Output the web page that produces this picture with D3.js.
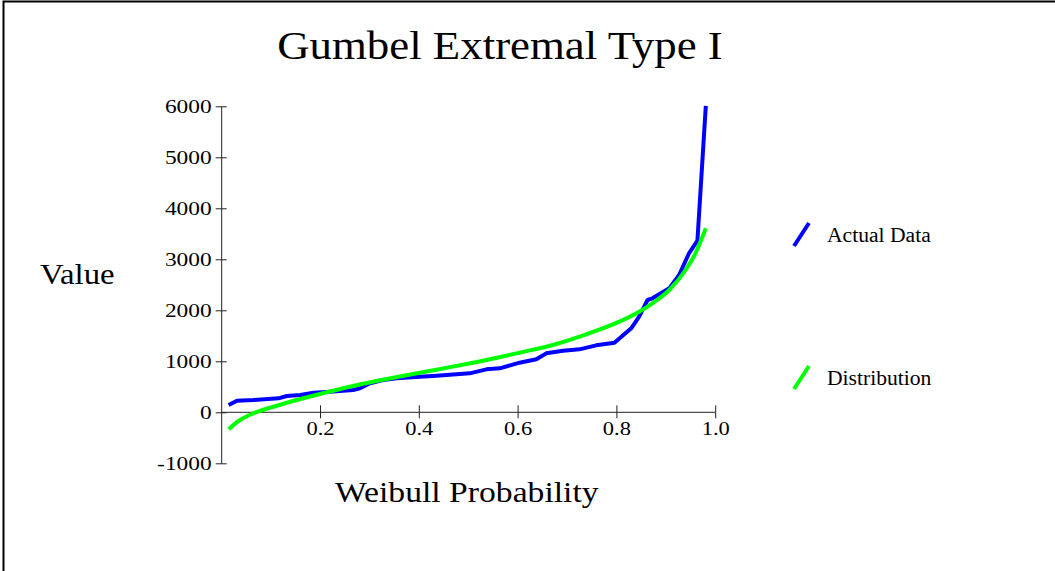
<!DOCTYPE html>
<html>
<head>
<meta charset="utf-8">
<script src="https://cdn.jsdelivr.net/npm/d3@7"></script>
<style>
  html, body { margin: 0; padding: 0; background: #fff; }
  svg { display: block; }
  text { font-family: "Liberation Serif", "Times New Roman", serif; fill: #000; }
</style>
</head>
<body>
<svg id="chart" width="1055" height="571"></svg>
<script>
// Actual data (Weibull plotting position vs value)
const actualP = [0.015, 0.032, 0.065, 0.116, 0.133, 0.160, 0.187, 0.220, 0.267, 0.281, 0.301, 0.328,
                 0.355, 0.402, 0.436, 0.503, 0.537, 0.564, 0.604, 0.638, 0.658, 0.692, 0.725, 0.759,
                 0.796, 0.830, 0.846, 0.863, 0.873, 0.907, 0.927, 0.947, 0.964, 0.981];
const actualV = [143, 228, 241, 274, 320, 339, 385, 404, 437, 470, 568, 633,
                 666, 699, 718, 764, 842, 862, 973, 1039, 1156, 1208, 1234, 1313,
                 1365, 1647, 1875, 2202, 2235, 2431, 2692, 3118, 3365, 6006];

// Fitted Gumbel distribution curve
const distP = [0.015, 0.038, 0.065, 0.099, 0.133, 0.200, 0.267, 0.335, 0.402, 0.469, 0.537,
               0.604, 0.671, 0.739, 0.806, 0.846, 0.873, 0.907, 0.940, 0.960, 0.981];
const distV = [-333, -151, -20, 90, 188, 359, 516, 653, 777, 895, 1025,
               1169, 1320, 1529, 1777, 1973, 2137, 2398, 2790, 3118, 3608];

const xTicks = [0.2, 0.4, 0.6, 0.8, 1.0];
const yTicks = [-1000, 0, 1000, 2000, 3000, 4000, 5000, 6000];
const seriesNames = ["Actual Data", "Distribution"];
const seriesColors = ["#0000ff", "#00ff00"];

const svg = d3.select("#chart");

// stretch text horizontally, the original glyphs are wider than Times
function stretch(sel, k) {
  sel.each(function () {
    const w = this.getComputedTextLength();
    d3.select(this).attr("textLength", w * k).attr("lengthAdjust", "spacingAndGlyphs");
  });
}

// frame (only top and left edges are visible in the picture)
svg.append("rect")
  .attr("x", 3.5).attr("y", 1.5)
  .attr("width", 1100).attr("height", 600)
  .attr("fill", "none").attr("stroke", "#000").attr("stroke-width", 2);

const x = d3.scaleLinear().domain([0, 1]).range([221.2, 715.2]);
const y = d3.scaleLinear().domain([-1000, 6000]).range([463.3, 106.3]);

// y axis
const yAxis = svg.append("g")
  .attr("transform", `translate(${x(0)},0)`)
  .call(d3.axisLeft(y).tickValues(yTicks).tickFormat(d => String(d)).tickSizeOuter(0));
yAxis.select(".domain").attr("stroke", "#222");
yAxis.selectAll(".tick line").attr("x1", -5.5).attr("x2", 5.5).attr("stroke", "#222");
yAxis.selectAll(".tick text")
  .style("font-size", "18px")
  .attr("x", -9.5)
  .attr("dy", "0.33em")
  .call(stretch, 1.3);

// x axis at value 0
const xAxis = svg.append("g")
  .attr("transform", `translate(0,${y(0)})`)
  .call(d3.axisBottom(x).tickValues(xTicks).tickFormat(d3.format(".1f")).tickSizeOuter(0));
xAxis.select(".domain").attr("stroke", "#222").attr("d", `M${x(0)},0H${x(1)}`);
xAxis.selectAll(".tick line").attr("y1", -7).attr("y2", 6).attr("stroke", "#222");
xAxis.selectAll(".tick text")
  .style("font-size", "18px")
  .attr("y", 10)
  .attr("dy", "0.71em")
  .call(stretch, 1.25);

// series lines
const line = d3.line().x(d => x(d[0])).y(d => y(d[1]));
const actual = d3.zip(actualP, actualV);
const dist = d3.zip(distP, distV);

svg.append("path")
  .datum(actual)
  .attr("d", line)
  .attr("fill", "none")
  .attr("stroke", seriesColors[0])
  .attr("stroke-width", 4)
  .attr("stroke-linejoin", "round");

svg.append("path")
  .datum(dist)
  .attr("d", line.curve(d3.curveMonotoneX))
  .attr("fill", "none")
  .attr("stroke", seriesColors[1])
  .attr("stroke-width", 4);

// title and axis titles
svg.append("text")
  .attr("x", 500).attr("y", 59)
  .attr("text-anchor", "middle")
  .style("font-size", "39px")
  .text("Gumbel Extremal Type I")
  .call(stretch, 1.15);

svg.append("text")
  .attr("x", 40).attr("y", 284)
  .style("font-size", "29px")
  .text("Value")
  .call(stretch, 1.13);

svg.append("text")
  .attr("x", 335).attr("y", 502)
  .style("font-size", "29px")
  .text("Weibull Probability")
  .call(stretch, 1.16);

// legend
const legendY = [242, 385];
const legend = svg.append("g")
  .selectAll("g")
  .data(seriesNames)
  .enter().append("g")
  .attr("transform", (d, i) => `translate(0,${legendY[i]})`);

legend.append("line")
  .attr("x1", 794).attr("y1", 4)
  .attr("x2", 809).attr("y2", -19)
  .attr("stroke", (d, i) => seriesColors[i])
  .attr("stroke-width", 4);

legend.append("text")
  .attr("x", 827).attr("y", 0)
  .style("font-size", "20px")
  .text(d => d)
  .call(stretch, 1.08);
</script>
</body>
</html>
